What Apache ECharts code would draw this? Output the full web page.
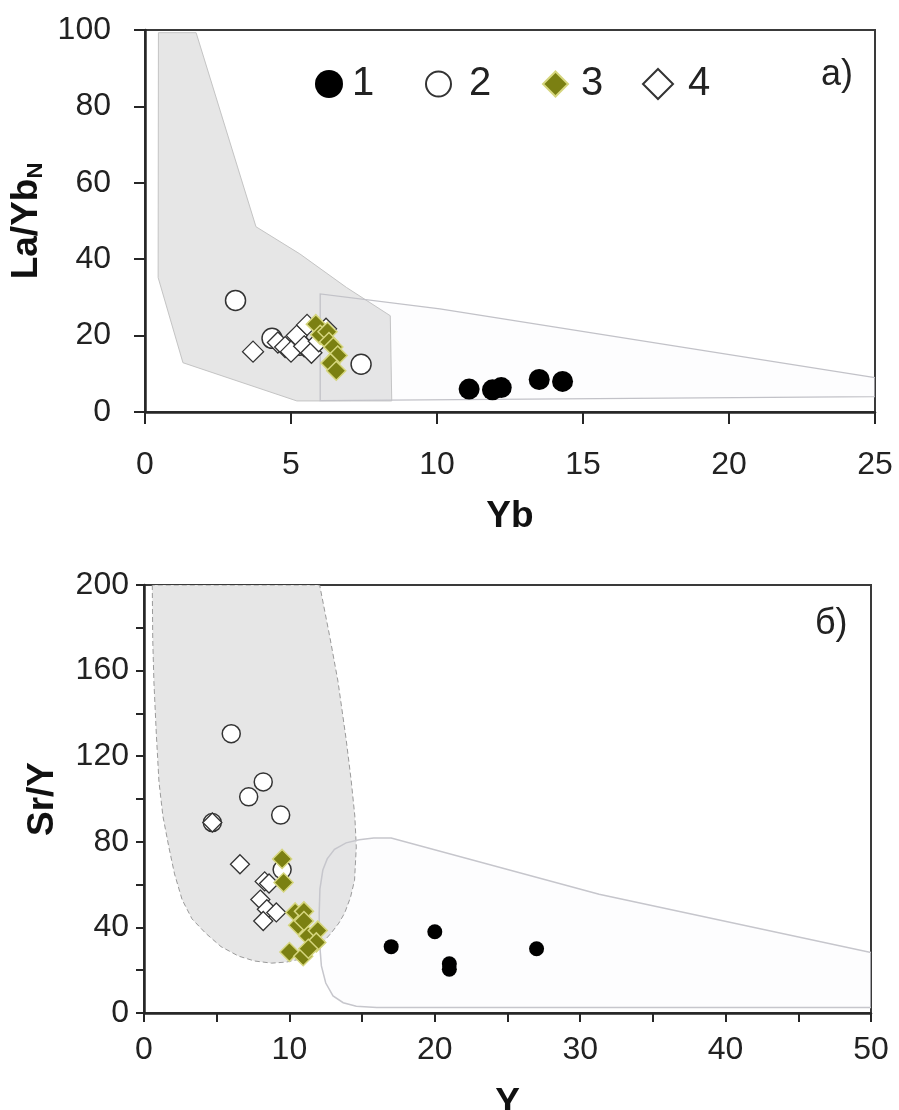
<!DOCTYPE html>
<html>
<head>
<meta charset="utf-8">
<script src="https://cdn.jsdelivr.net/npm/echarts@6/dist/echarts.min.js"></script>
<style>
html,body{margin:0;padding:0;background:#fff;}
#chart{width:899px;height:1110px;}
</style>
</head>
<body>
<div id="chart"></div>
<script>
// ---------- Panel a) : Yb vs La/Yb_N ----------
const xTicksA = [0, 5, 10, 15, 20, 25];
const yTicksA = [0, 20, 40, 60, 80, 100];
const a_s1 = [[11.1, 6.0], [11.9, 5.8], [12.2, 6.4], [13.5, 8.5], [14.3, 8.0]];
const a_s2 = [[3.1, 29.2], [4.35, 19.3], [5.3, 17.5], [7.4, 12.5]];
const a_s3 = [[5.85, 23.0], [6.0, 20.2], [6.25, 21.0], [6.3, 18.3], [6.45, 17.0], [6.6, 14.8], [6.35, 12.8], [6.55, 10.8]];
const a_s4 = [[3.7, 15.8], [4.55, 18.2], [4.8, 17.0], [5.0, 15.8], [5.2, 20.0], [5.45, 17.2], [5.55, 22.8], [5.7, 15.5], [5.95, 18.5], [6.2, 21.8]];
const a_adakite = [[0.46, 99.3], [1.75, 99.3], [3.8, 48.5], [5.3, 41.4], [6.9, 32.6], [8.4, 25.2], [8.45, 2.9], [5.2, 2.9], [1.3, 12.9], [0.45, 35.2]];
const a_arc = [[6.0, 3.0], [6.0, 30.9], [10.1, 27.0], [25, 9.0], [25, 4.0]];

// ---------- Panel б) : Y vs Sr/Y ----------
const xTicksB = [0, 10, 20, 30, 40, 50];
const yTicksB = [0, 40, 80, 120, 160, 200];
const b_s1 = [[17, 31], [20, 38], [21, 23], [21, 20.5], [27, 30]];
const b_s2 = [[6.0, 130.5], [8.2, 108], [7.2, 101], [9.4, 92.5], [4.7, 89], [9.5, 67]];
const b_s3 = [[9.5, 72], [9.6, 61], [10.4, 47], [11.0, 47.5], [10.6, 41], [11.0, 43], [11.3, 36], [11.95, 38.5], [11.85, 33], [10.0, 28.5], [10.95, 26.5], [11.3, 30]];
const b_s4 = [[4.7, 89], [6.6, 69.5], [8.3, 61.5], [8.6, 60.5], [8.0, 53], [8.45, 48.5], [9.1, 47], [8.2, 43]];
const b_adakite = [[0.57, 200], [0.6, 175], [0.68, 155], [0.85, 130], [1.03, 108], [1.3, 92], [1.71, 77.5], [2.1, 65], [2.62, 53], [3.3, 44], [4.22, 37.4], [5.3, 31], [6.5, 26.6], [7.6, 24.3], [8.78, 23.3], [9.8, 23.8], [10.6, 25], [11.2, 27], [11.74, 29.7], [12.3, 33], [12.88, 37.4], [13.4, 42], [13.8, 46.7], [14.2, 54], [14.48, 62], [14.6, 77.6], [14.5, 92], [14.25, 108.6], [13.9, 128], [13.34, 155], [12.8, 175], [12.08, 200]];
const b_arc = [[17.0, 81.8], [15.8, 81.8], [14.8, 81.0], [13.9, 79.5], [13.1, 76.5], [12.6, 72], [12.3, 66.8], [12.1, 58], [12.05, 46.7], [12.05, 35], [12.2, 22], [12.5, 14], [13.0, 8], [13.7, 4.8], [14.6, 3.2], [16.0, 2.6], [50, 2.6], [50, 28.3], [31.3, 55.5]];

const seriesNames = ['1', '2', '3', '4'];
const FONT = '"Liberation Sans", Arial, sans-serif';
const AX = '#262626';

function field(idx, pts, style) {
  return {
    type: 'custom', xAxisIndex: idx, yAxisIndex: idx, silent: true, clip: true, z: 1,
    data: [0],
    renderItem: function (params, api) {
      return { type: 'polygon', shape: { points: pts.map(p => api.coord(p)) }, style: style };
    }
  };
}

const styles = {
  '1': { symbol: 'circle', itemStyle: { color: '#000', borderColor: '#000', borderWidth: 0, opacity: 1 } },
  '2': { symbol: 'circle', itemStyle: { color: '#fff', borderColor: '#333', borderWidth: 1.5, opacity: 1 } },
  '3': { symbol: 'diamond', itemStyle: { color: '#7b8012', borderColor: '#d6d67e', borderWidth: 1.5, opacity: 1 } },
  '4': { symbol: 'diamond', itemStyle: { color: '#fff', borderColor: '#333', borderWidth: 1.3, opacity: 1 } }
};
function sc(name, idx, data, size) {
  return Object.assign({ type: 'scatter', name: name, xAxisIndex: idx, yAxisIndex: idx, data: data, symbolSize: size, z: 3 }, styles[name]);
}

function xAxis(idx, min, max, interval, name, margin, nameGap, tickLen, minor) {
  return {
    gridIndex: idx, type: 'value', min: min, max: max, interval: interval,
    axisLine: { show: true, onZero: false, lineStyle: { color: AX, width: 2.5 } },
    axisTick: { show: true, inside: false, length: tickLen, lineStyle: { color: AX, width: 2 } },
    minorTick: { show: minor, splitNumber: 2, length: tickLen, lineStyle: { color: AX, width: 2 } },
    axisLabel: { margin: margin, fontSize: 32, color: '#222', fontFamily: FONT },
    splitLine: { show: false },
    name: name, nameLocation: 'middle', nameGap: nameGap,
    nameTextStyle: { fontSize: 37, fontWeight: 'bold', color: '#111', fontFamily: FONT }
  };
}
function yAxis(idx, min, max, interval, name, margin, nameGap, tickLen, minor, rich) {
  return {
    gridIndex: idx, type: 'value', min: min, max: max, interval: interval,
    axisLine: { show: true, onZero: false, lineStyle: { color: AX, width: 2.5 } },
    axisTick: { show: true, inside: false, length: tickLen, lineStyle: { color: AX, width: 2 } },
    minorTick: { show: minor, splitNumber: 2, length: tickLen, lineStyle: { color: AX, width: 2 } },
    axisLabel: { margin: margin, fontSize: 32, color: '#222', fontFamily: FONT },
    splitLine: { show: false },
    name: name, nameLocation: 'middle', nameGap: nameGap,
    nameTextStyle: Object.assign({ fontSize: 37, fontWeight: 'bold', color: '#111', fontFamily: FONT }, rich ? { rich: rich } : {})
  };
}

const legendBase = { orient: 'horizontal', padding: 0, selectedMode: false };
function leg(name, left, size, pad) {
  return Object.assign({}, legendBase, {
    data: [name], left: left, top: 87 - 23, itemWidth: size, itemHeight: size,
    textStyle: { fontSize: 40, color: '#222', fontFamily: FONT, padding: [0, 0, 0, pad] }
  });
}

const option = {
  animation: false,
  backgroundColor: '#fff',
  textStyle: { fontFamily: FONT },
  title: [
    { text: 'a)', left: 816, top: 52, textStyle: { fontSize: 36, fontWeight: 'normal', color: '#222', fontFamily: FONT } },
    { text: 'б)', left: 810, top: 601, textStyle: { fontSize: 36, fontWeight: 'normal', color: '#222', fontFamily: FONT } }
  ],
  legend: [leg('1', 315, 28, 4), leg('2', 425, 25, 13), leg('3', 542, 25, 8), leg('4', 642, 30, 10)],
  grid: [
    { left: 145, top: 30, width: 730, height: 382, show: true, borderColor: '#3a3a3a', borderWidth: 2, containLabel: false, outerBoundsMode: 'none' },
    { left: 144, top: 585, width: 727, height: 428, show: true, borderColor: '#3a3a3a', borderWidth: 2, containLabel: false, outerBoundsMode: 'none' }
  ],
  xAxis: [
    xAxis(0, xTicksA[0], xTicksA[xTicksA.length - 1], xTicksA[1] - xTicksA[0], 'Yb', 37, 86, 12, false),
    xAxis(1, xTicksB[0], xTicksB[xTicksB.length - 1], xTicksB[1] - xTicksB[0], 'Y', 21, 72, 9, true)
  ],
  yAxis: [
    yAxis(0, yTicksA[0], yTicksA[yTicksA.length - 1], yTicksA[1] - yTicksA[0], '{m|La/Yb}{s|N}', 34, 97, 11, false,
      { m: { fontSize: 37, fontWeight: 'bold', color: '#111', fontFamily: FONT, lineHeight: 40 },
        s: { fontSize: 22, fontWeight: 'bold', color: '#111', fontFamily: FONT, lineHeight: 40, verticalAlign: 'bottom' } }),
    yAxis(1, yTicksB[0], yTicksB[yTicksB.length - 1], yTicksB[1] - yTicksB[0], 'Sr/Y', 15, 83, 8, true, null)
  ],
  series: [
    field(0, a_adakite, { fill: '#e6e6e6', stroke: '#c4c4c4', lineWidth: 1 }),
    field(0, a_arc, { fill: 'rgba(205,210,228,0.04)', stroke: '#c2c2c8', lineWidth: 1.3 }),
    field(1, b_adakite, { fill: '#e6e6e6', stroke: '#9a9a9a', lineWidth: 1, lineDash: [5, 3] }),
    field(1, b_arc, { fill: 'rgba(205,210,228,0.04)', stroke: '#c6c6cc', lineWidth: 1.5 }),
    sc('1', 0, a_s1, 21), sc('2', 0, a_s2, 20), sc('4', 0, a_s4, 21), sc('3', 0, a_s3, 19),
    sc('1', 1, b_s1, 15), sc('2', 1, b_s2, 18), sc('4', 1, b_s4, 19), sc('3', 1, b_s3, 19)
  ]
};

const chart = echarts.init(document.getElementById('chart'), null, { renderer: 'canvas' });
chart.setOption(option);
</script>
</body>
</html>
